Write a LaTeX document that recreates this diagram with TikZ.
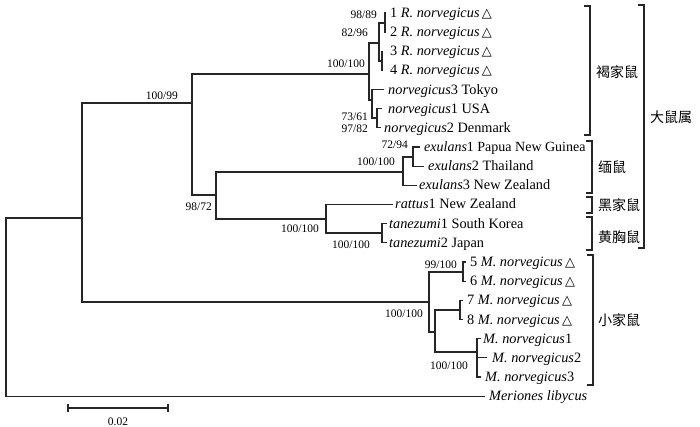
\documentclass[tikz,border=0pt]{standalone}
\usepackage{fontspec}
\setmainfont{Liberation Serif}
\newfontfamily\cjk{Noto Sans CJK SC}
\newfontfamily\symf{DejaVu Sans}
\newcommand{\tri}{\,{\symf\fontsize{13}{13}\selectfont △}}
\begin{document}
\begin{tikzpicture}[x=1pt,y=-1pt,
  br/.style={line width=1.1pt,draw=black!85,line cap=rect},
  leaf/.style={anchor=base west,inner sep=0pt,font=\fontsize{14.3}{16}\selectfont},
  bs/.style={anchor=base east,inner sep=0pt,font=\fontsize{11.5}{13}\selectfont},
  grp/.style={anchor=west,inner sep=0pt,font=\cjk\fontsize{14}{16}\selectfont}]
\path[use as bounding box] (0,0) rectangle (700,427);
\fill[white] (0,0) rectangle (700,427);
% leaf ends
\coordinate (e1) at (385,13);
\coordinate (e2) at (385,32.2);
\coordinate (e3) at (382,51.5);
\coordinate (e4) at (382,70.5);
\coordinate (e5) at (383,89.6);
\coordinate (e6) at (381,108.8);
\coordinate (e7) at (380,127.9);
\coordinate (e8) at (419,147);
\coordinate (e9) at (423,166.2);
\coordinate (e10) at (416,185.4);
\coordinate (e11) at (392,204.5);
\coordinate (e12) at (386,223.7);
\coordinate (e13) at (386,242.9);
\coordinate (e14) at (465,262);
\coordinate (e15) at (465,281.2);
\coordinate (e16) at (462,300.4);
\coordinate (e17) at (462,319.6);
\coordinate (e18) at (480,338.7);
\coordinate (e19) at (486,357.9);
\coordinate (e20) at (480,377);
\coordinate (e21) at (484,396.2);
% internal nodes
\coordinate (R) at (6,218);
\coordinate (N1) at (82,218);
\coordinate (N2) at (192,103);
\coordinate (A) at (369,74);
\coordinate (B) at (379,43);
\coordinate (C) at (385,23);
\coordinate (D) at (382,61);
\coordinate (E) at (372,100);
\coordinate (F) at (377,118);
\coordinate (N3) at (216,195);
\coordinate (G) at (403,172);
\coordinate (H) at (413,157);
\coordinate (I) at (326,219);
\coordinate (T) at (382,233);
\coordinate (J) at (429,302);
\coordinate (K) at (463,272);
\coordinate (L) at (435,332);
\coordinate (M) at (460,310);
\coordinate (N) at (477,352);
% branches
\draw[br] (N1) -| (R) |- (e21);
\draw[br] (N2) -| (N1) |- (J);
\draw[br] (A) -| (N2) |- (N3);
\draw[br] (B) -| (A) |- (E);
\draw[br] (C) -| (B) |- (D);
\draw[br] (e1) -| (C) |- (e2);
\draw[br] (e3) -| (D) |- (e4);
\draw[br] (e5) -| (E) |- (F);
\draw[br] (e6) -| (F) |- (e7);
\draw[br] (G) -| (N3) |- (I);
\draw[br] (H) -| (G) |- (e10);
\draw[br] (e8) -| (H) |- (e9);
\draw[br] (e11) -| (I) |- (T);
\draw[br] (e12) -| (T) |- (e13);
\draw[br] (K) -| (J) |- (L);
\draw[br] (e14) -| (K) |- (e15);
\draw[br] (M) -| (L) |- (N);
\draw[br] (e16) -| (M) |- (e17);
\draw[br] (e18) -| (N) |- (e20);
\draw[br] (N |- e19) -- (e19);
% leaf labels
\node[leaf] (t1) at (390,17.5) {1 \textit{R. norvegicus}\tri};
\node[leaf] (t2) at (390,36.7) {2 \textit{R. norvegicus}\tri};
\node[leaf] (t3) at (390,56) {3 \textit{R. norvegicus}\tri};
\node[leaf] (t4) at (390,75) {4 \textit{R. norvegicus}\tri};
\node[leaf] (t5) at (388,94.1) {\textit{norvegicus}3 Tokyo};
\node[leaf] (t6) at (388,113.3) {\textit{norvegicus}1 USA};
\node[leaf] (t7) at (384,132.4) {\textit{norvegicus}2 Denmark};
\node[leaf,font=\fontsize{14}{16}\selectfont] (t8) at (424,151.5) {\textit{exulans}1 Papua New Guinea};
\node[leaf] (t9) at (428,170.7) {\textit{exulans}2 Thailand};
\node[leaf] (t10) at (419,189.9) {\textit{exulans}3 New Zealand};
\node[leaf] (t11) at (395,209) {\textit{rattus}1 New Zealand};
\node[leaf] (t12) at (389,228.2) {\textit{tanezumi}1 South Korea};
\node[leaf] (t13) at (389,247.4) {\textit{tanezumi}2 Japan};
\node[leaf] (t14) at (470,266.5) {5 \textit{M. norvegicus}\tri};
\node[leaf] (t15) at (470,285.7) {6 \textit{M. norvegicus}\tri};
\node[leaf] (t16) at (467,304.9) {7 \textit{M. norvegicus}\tri};
\node[leaf] (t17) at (467,324.1) {8 \textit{M. norvegicus}\tri};
\node[leaf] (t18) at (483,343.2) {\textit{M. norvegicus}1};
\node[leaf] (t19) at (492,362.4) {\textit{M. norvegicus}2};
\node[leaf] (t20) at (485,381.5) {\textit{M. norvegicus}3};
\node[leaf] (t21) at (489,400.7) {\textit{Meriones libycus}};
% bootstrap values
\node[bs] (b1) at (377,19) {98/89};
\node[bs] (b2) at (368,37) {82/96};
\node[bs] (b3) at (365,68) {100/100};
\node[bs] (b4) at (368,121) {73/61};
\node[bs] (b5) at (368,133) {97/82};
\node[bs] (b6) at (178,100) {100/99};
\node[bs] (b7) at (408,149) {72/94};
\node[bs] (b8) at (395,166) {100/100};
\node[bs] (b9) at (212,211) {98/72};
\node[bs] (b10) at (319,233) {100/100};
\node[bs] (b11) at (370,248) {100/100};
\node[bs] (b12) at (457,268) {99/100};
\node[bs] (b13) at (423,317) {100/100};
\node[bs] (b14) at (468,369) {100/100};
% scale bar
\coordinate (s1) at (68,408);
\coordinate (s2) at (168,408);
\draw[br,line cap=butt] (s1) -- (s2);
\draw[br,line cap=butt] ([yshift=-4]s1) -- ([yshift=4]s1);
\draw[br,line cap=butt] ([yshift=-4]s2) -- ([yshift=4]s2);
\node[inner sep=0pt,font=\fontsize{11.5}{13}\selectfont,anchor=base] (sl) at (118,425) {0.02};
% group brackets
\draw[br,line cap=butt] (584,6) -- (590,6) -- (590,135) -- (584,135);
\node[grp] (g1) at (596,72) {褐家鼠};
\draw[br,line cap=butt] (586,141) -- (592,141) -- (592,193) -- (586,193);
\node[grp] (g2) at (598,167) {缅鼠};
\draw[br,line cap=butt] (586,197) -- (592,197) -- (592,213) -- (586,213);
\node[grp] (g3) at (598,205) {黑家鼠};
\draw[br,line cap=butt] (586,217) -- (592,217) -- (592,250) -- (586,250);
\node[grp] (g4) at (598,237) {黄胸鼠};
\draw[br,line cap=butt] (587,255) -- (593,255) -- (593,385) -- (587,385);
\node[grp] (g5) at (598,320) {小家鼠};
\draw[br,line cap=butt] (638,5) -- (644,5) -- (644,248) -- (638,248);
\node[grp] (g6) at (650,117) {大鼠属};
\end{tikzpicture}
\end{document}
